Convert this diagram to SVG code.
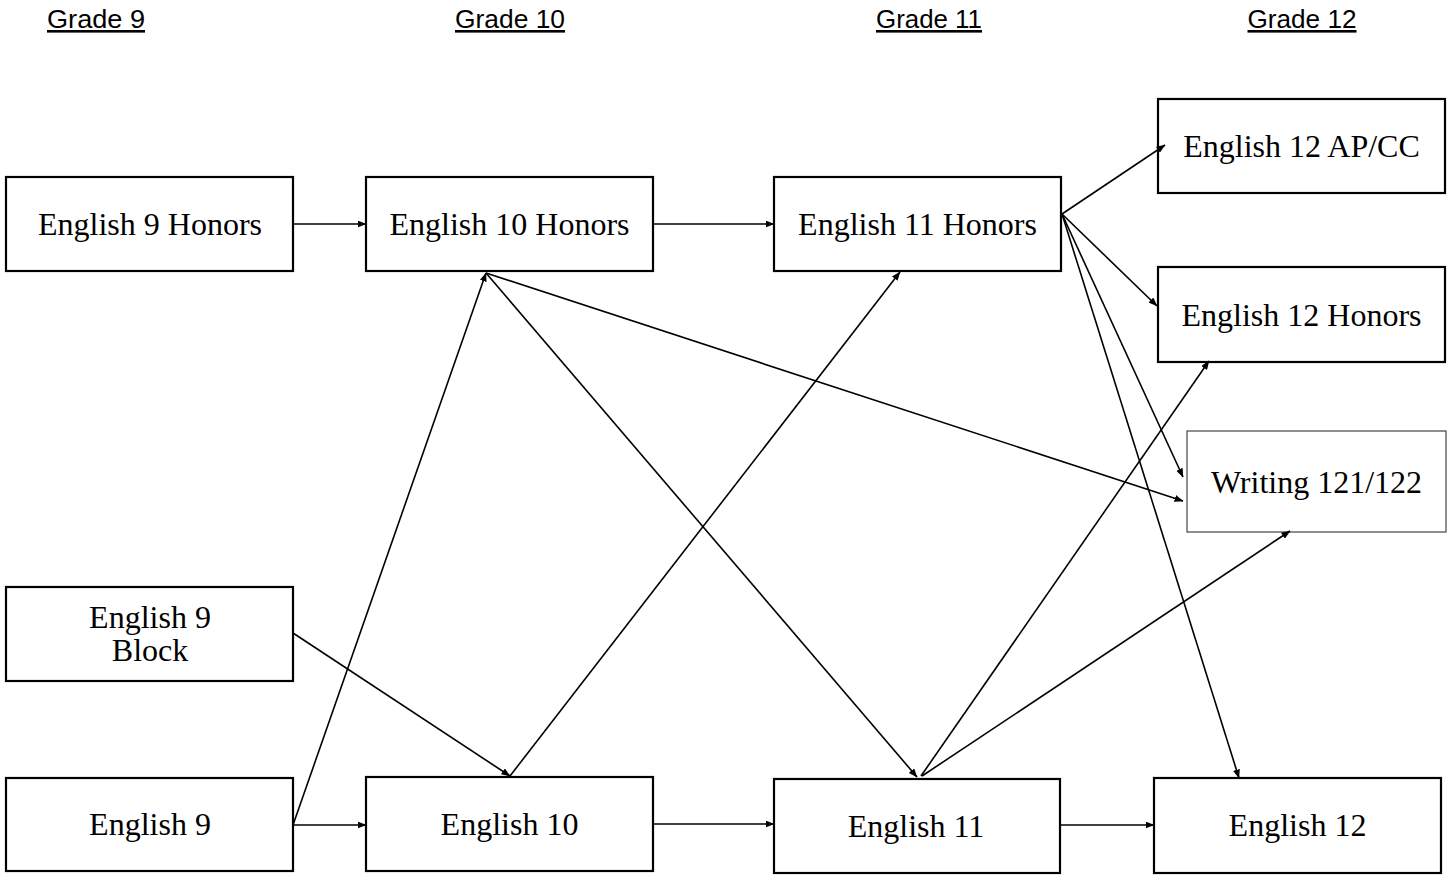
<svg xmlns="http://www.w3.org/2000/svg" width="1453" height="875" viewBox="0 0 1453 875">
<defs>
<marker id="ah" markerWidth="9" markerHeight="7" refX="8.5" refY="3.5" orient="auto" markerUnits="userSpaceOnUse">
<path d="M0,0 L9,3.5 L0,7 z" fill="#000"/>
</marker>
<style>
.hdr{font-family:"Comic Sans MS","Liberation Sans",sans-serif;font-size:26px;fill:#000;text-decoration:underline;text-anchor:middle}
.box{fill:#fff;stroke:#000;stroke-width:2.2}
.box2{fill:#fff;stroke:#444;stroke-width:1.2}
.lbl{font-family:"Liberation Serif","Times New Roman",serif;font-size:32px;fill:#000;text-anchor:middle}
.con line{stroke:#000;stroke-width:1.6;fill:none;marker-end:url(#ah)}
</style>
</defs>
<rect width="1453" height="875" fill="#fff"/>
<g id="headers">
<text class="hdr" x="96" y="28" textLength="98" lengthAdjust="spacingAndGlyphs">Grade 9</text>
<text class="hdr" x="510" y="28" textLength="110" lengthAdjust="spacingAndGlyphs">Grade 10</text>
<text class="hdr" x="929" y="28" textLength="106" lengthAdjust="spacingAndGlyphs">Grade 11</text>
<text class="hdr" x="1302" y="28" textLength="109" lengthAdjust="spacingAndGlyphs">Grade 12</text>
</g>
<g id="eng9h"><rect class="box" x="6" y="177" width="287" height="94"/><text class="lbl" x="150" y="235">English 9 Honors</text></g>
<g id="eng10h"><rect class="box" x="366" y="177" width="287" height="94"/><text class="lbl" x="509.5" y="235">English 10 Honors</text></g>
<g id="eng11h"><rect class="box" x="774" y="177" width="287" height="94"/><text class="lbl" x="917.5" y="235">English 11 Honors</text></g>
<g id="eng12ap"><rect class="box" x="1158" y="99" width="287" height="94"/><text class="lbl" x="1301.5" y="157">English 12 AP/CC</text></g>
<g id="eng12h"><rect class="box" x="1158" y="267" width="287" height="95"/><text class="lbl" x="1301.5" y="326">English 12 Honors</text></g>
<g id="writing"><rect class="box2" x="1187" y="431" width="259" height="101"/><text class="lbl" x="1316.5" y="493">Writing 121/122</text></g>
<g id="eng9b"><rect class="box" x="6" y="587" width="287" height="94"/><text class="lbl" x="150" y="628">English 9</text><text class="lbl" x="150" y="661">Block</text></g>
<g id="eng9"><rect class="box" x="6" y="778" width="287" height="93"/><text class="lbl" x="150" y="835">English 9</text></g>
<g id="eng10"><rect class="box" x="366" y="777" width="287" height="94"/><text class="lbl" x="509.5" y="835">English 10</text></g>
<g id="eng11"><rect class="box" x="774" y="779" width="286" height="94"/><text class="lbl" x="916" y="837">English 11</text></g>
<g id="eng12"><rect class="box" x="1154" y="778" width="287" height="95"/><text class="lbl" x="1297.5" y="836">English 12</text></g>
<g id="connectors" class="con">
<line x1="293" y1="224" x2="366" y2="224"/>
<line x1="653" y1="224" x2="774" y2="224"/>
<line x1="1062" y1="214" x2="1165" y2="145"/>
<line x1="1062" y1="214" x2="1157" y2="306"/>
<line x1="1062" y1="214" x2="1183" y2="477"/>
<line x1="1062" y1="214" x2="1239" y2="778"/>
<line x1="486" y1="273" x2="1183" y2="501"/>
<line x1="486" y1="273" x2="917" y2="777"/>
<line x1="293" y1="825" x2="486" y2="273"/>
<line x1="293" y1="825" x2="366" y2="825"/>
<line x1="293" y1="633" x2="510" y2="776"/>
<line x1="510" y1="776" x2="900" y2="272"/>
<line x1="653" y1="824" x2="774" y2="824"/>
<line x1="921" y1="776" x2="1209" y2="361"/>
<line x1="922" y1="776" x2="1290" y2="531"/>
<line x1="1060" y1="825" x2="1154" y2="825"/>
</g>
</svg>
